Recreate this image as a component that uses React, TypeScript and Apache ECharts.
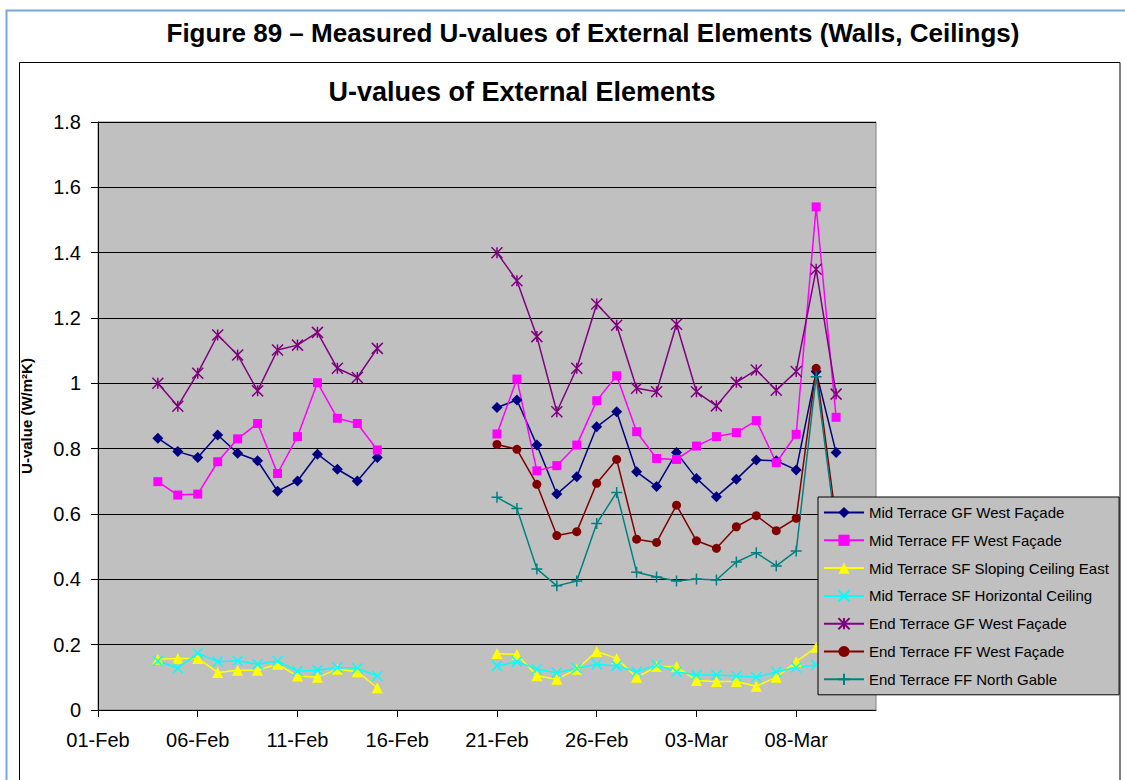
import React, { useEffect, useRef } from "react";
import * as echarts from "echarts";

const dates = [
  "04-Feb", "05-Feb", "06-Feb", "07-Feb", "08-Feb", "09-Feb", "10-Feb", "11-Feb", "12-Feb", "13-Feb", "14-Feb", "15-Feb",
  "21-Feb", "22-Feb", "23-Feb", "24-Feb", "25-Feb", "26-Feb", "27-Feb", "28-Feb",
  "01-Mar", "02-Mar", "03-Mar", "04-Mar", "05-Mar", "06-Mar", "07-Mar", "08-Mar", "09-Mar", "10-Mar",
];

const seriesNames = [
  "Mid Terrace GF West Façade",
  "Mid Terrace FF West Façade",
  "Mid Terrace SF Sloping Ceiling East",
  "Mid Terrace SF Horizontal Ceiling",
  "End Terrace GF West Façade",
  "End Terrace FF West Façade",
  "End Terrace FF North Gable",
];

const midGF = [
  0.832, 0.791, 0.773, 0.842, 0.786, 0.763, 0.670, 0.701, 0.783, 0.737, 0.701, 0.773,
  0.926, 0.949, 0.811, 0.661, 0.714, 0.867, 0.913, 0.729, 0.684, 0.788, 0.709, 0.653, 0.706, 0.765, 0.763, 0.735, 1.036, 0.788,
];
const midFF = [
  0.699, 0.658, 0.661, 0.760, 0.830, 0.877, 0.724, 0.837, 1.002, 0.893, 0.877, 0.796,
  0.845, 1.013, 0.732, 0.748, 0.811, 0.947, 1.023, 0.852, 0.770, 0.767, 0.808, 0.837, 0.849, 0.886, 0.757, 0.844, 1.540, 0.896,
];
const midSloping = [
  0.155, 0.158, 0.158, 0.115, 0.122, 0.122, 0.140, 0.104, 0.100, 0.125, 0.117, 0.068,
  0.173, 0.170, 0.105, 0.094, 0.125, 0.179, 0.158, 0.100, 0.133, 0.133, 0.090, 0.087, 0.087, 0.073, 0.100, 0.148, 0.192, null,
];
const midHorizontal = [
  0.150, 0.128, 0.174, 0.148, 0.151, 0.140, 0.150, 0.119, 0.122, 0.130, 0.128, 0.104,
  0.135, 0.148, 0.125, 0.114, 0.128, 0.140, 0.135, 0.117, 0.138, 0.117, 0.107, 0.107, 0.104, 0.100, 0.117, 0.130, 0.138, null,
];
const endGF = [
  1.000, 0.930, 1.031, 1.148, 1.087, 0.977, 1.102, 1.117, 1.156, 1.046, 1.018, 1.107,
  1.400, 1.314, 1.143, 0.913, 1.046, 1.243, 1.178, 0.985, 0.974, 1.181, 0.974, 0.931, 1.003, 1.041, 0.979, 1.036, 1.349, 0.967,
];
const endFF = [
  null, null, null, null, null, null, null, null, null, null, null, null,
  0.813, 0.798, 0.691, 0.534, 0.546, 0.694, 0.767, 0.523, 0.513, 0.627, 0.518, 0.495, 0.561, 0.595, 0.549, 0.587, 1.046, 0.580,
];
const endNorth = [
  null, null, null, null, null, null, null, null, null, null, null, null,
  0.651, 0.617, 0.432, 0.380, 0.395, 0.571, 0.666, 0.422, 0.407, 0.395, 0.401, 0.398, 0.453, 0.481, 0.441, 0.487, 1.020, 0.550,
];

const xTickLabels = ["01-Feb", "06-Feb", "11-Feb", "16-Feb", "21-Feb", "26-Feb", "03-Mar", "08-Mar"];
const xMinLabel = "01-Feb";
const xMaxLabel = "12-Mar";
const yTicks = { min: 0, max: 1.8, interval: 0.2 };

const MONTHS = ["Feb", "Mar"];
const MONTH_OFFSET: Record<string, number> = { Feb: 0, Mar: 28 };

function dayNum(d: string): number {
  const day = parseInt(d.slice(0, 2), 10);
  const mon = d.slice(3);
  return day - 1 + MONTH_OFFSET[mon];
}
function dayLabel(n: number): string {
  const r = Math.round(n);
  const mon = r >= 28 ? MONTHS[1] : MONTHS[0];
  const day = r - MONTH_OFFSET[mon] + 1;
  return (day < 10 ? "0" : "") + day + "-" + mon;
}

function build(values: (number | null)[]) {
  const out: any[] = [];
  dates.forEach((d, i) => {
    const x = dayNum(d);
    if (i > 0 && x - dayNum(dates[i - 1]) > 1) out.push([x - 0.5, "-"]);
    const v = values[i];
    out.push([x, v == null ? "-" : v]);
  });
  return out;
}

const FONT = "'Liberation Sans', Arial, sans-serif";

export default function App() {
  const ref = useRef<HTMLDivElement>(null);
  useEffect(() => {
    document.body.style.margin = "0";
    if (!ref.current) return;
    const chart = echarts.init(ref.current, undefined, { renderer: "svg" });

    const styles = [
      { color: "#000080", symbol: "diamond", size: 11, stroke: false },
      { color: "#FF00FF", symbol: "rect", size: 9, stroke: false },
      { color: "#FFFF00", symbol: "triangle", size: 11, stroke: false },
      { color: "#00FFFF", symbol: "path://M0,0L10,10M10,0L0,10", size: 10, stroke: true },
      { color: "#800080", symbol: "path://M0,0L10,10M10,0L0,10M5,0L5,10", size: 11, stroke: true },
      { color: "#800000", symbol: "circle", size: 9, stroke: false },
      { color: "#008080", symbol: "path://M5,0L5,10M0,5L10,5", size: 11, stroke: true },
    ];
    const valuesList = [midGF, midFF, midSloping, midHorizontal, endGF, endFF, endNorth];

    const series = valuesList.map((vals, i) => ({
      name: seriesNames[i],
      type: "line",
      data: build(vals),
      symbol: styles[i].symbol,
      symbolSize: styles[i].size,
      showSymbol: true,
      connectNulls: false,
      lineStyle: { color: styles[i].color, width: 1.5 },
      itemStyle: {
        color: styles[i].color,
        borderColor: styles[i].color,
        borderWidth: styles[i].stroke ? 1.5 : 0,
      },
      emphasis: { disabled: true },
    }));

    chart.setOption({
      animation: false,
      backgroundColor: "#ffffff",
      textStyle: { fontFamily: FONT },
      graphic: [
        {
          type: "rect",
          shape: { x: 6.5, y: 10.5, width: 1140, height: 800 },
          style: { fill: "none", stroke: "#78a6e0", lineWidth: 2 },
          silent: true,
        },
        {
          type: "rect",
          shape: { x: 19.5, y: 62.5, width: 1100.5, height: 800 },
          style: { fill: "none", stroke: "#000000", lineWidth: 1 },
          silent: true,
        },
        {
          type: "text",
          x: 593,
          y: 33,
          style: {
            text: "Figure 89 – Measured U-values of External Elements (Walls, Ceilings)",
            font: "bold 26px " + FONT,
            fill: "#000",
            align: "center",
            verticalAlign: "middle",
          },
          silent: true,
        },
        {
          type: "text",
          x: 522,
          y: 92,
          style: {
            text: "U-values of External Elements",
            font: "bold 27px " + FONT,
            fill: "#000",
            align: "center",
            verticalAlign: "middle",
          },
          silent: true,
        },
      ],
      grid: {
        left: 98,
        right: 249,
        top: 122,
        bottom: 70,
        containLabel: false,
        outerBoundsMode: "none",
        show: true,
        backgroundColor: "#c0c0c0",
        borderColor: "#808080",
        borderWidth: 1,
      },
      legend: {
        orient: "vertical",
        left: 818,
        top: 497,
        data: seriesNames,
        backgroundColor: "#c0c0c0",
        borderColor: "#000000",
        borderWidth: 1,
        padding: [8, 10, 8, 5],
        itemWidth: 40,
        itemHeight: 14,
        itemGap: 12.8,
        textStyle: { fontSize: 15, color: "#000", fontFamily: FONT, lineHeight: 14 },
        selectedMode: false,
      },
      xAxis: {
        type: "value",
        min: dayNum(xMinLabel),
        max: dayNum(xMaxLabel),
        interval: 5,
        axisLine: { show: true, onZero: false, lineStyle: { color: "#000", width: 1 } },
        axisTick: {
          show: true,
          inside: false,
          length: 7,
          lineStyle: { color: "#000" },
          customValues: xTickLabels.map(dayNum),
        },
        axisLabel: {
          fontSize: 20,
          color: "#000",
          margin: 20,
          fontFamily: FONT,
          customValues: xTickLabels.map(dayNum),
          formatter: (v: number) => dayLabel(v),
        },
        splitLine: { show: false },
      },
      yAxis: {
        type: "value",
        min: yTicks.min,
        max: yTicks.max,
        interval: yTicks.interval,
        name: "U-value (W/m²K)",
        nameLocation: "middle",
        nameRotate: 90,
        nameGap: 64,
        nameTextStyle: { fontSize: 15, fontWeight: "bold", color: "#000", fontFamily: FONT },
        axisLine: { show: true, lineStyle: { color: "#000", width: 1 } },
        axisTick: { show: true, inside: false, length: 7, lineStyle: { color: "#000" } },
        axisLabel: {
          fontSize: 20,
          color: "#000",
          margin: 17,
          fontFamily: FONT,
          formatter: (v: number) => String(Math.round(v * 10) / 10),
        },
        splitLine: { show: true, lineStyle: { color: "#000", width: 1 } },
      },
      series,
    });

    return () => chart.dispose();
  }, []);

  return <div ref={ref} style={{ width: 1125, height: 780 }} />;
}
